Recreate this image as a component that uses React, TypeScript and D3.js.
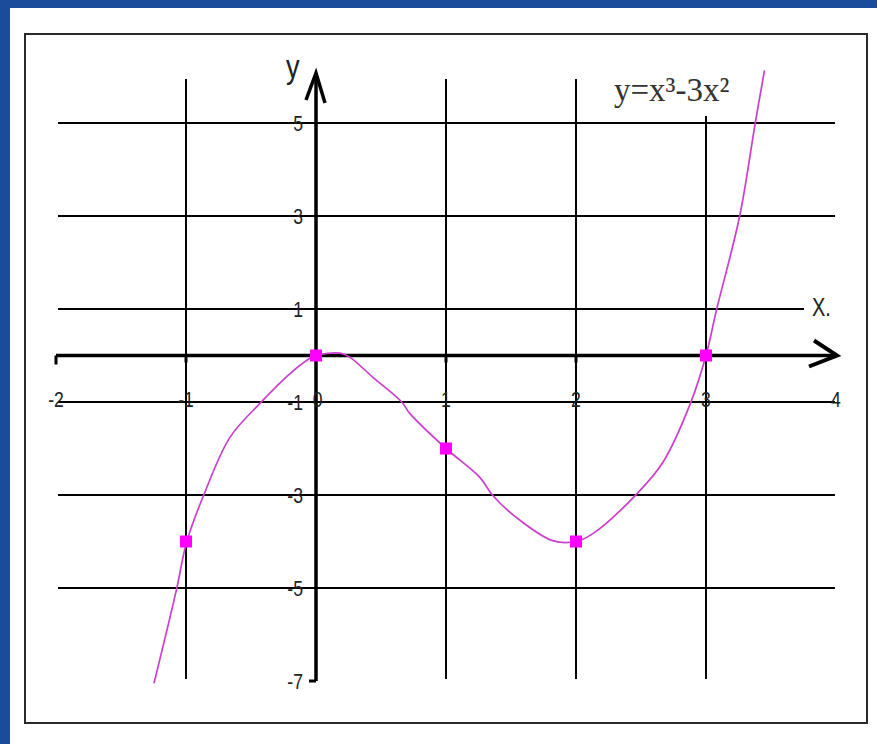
import React from "react";
import * as d3 from "d3";

// curve (x, y pairs)
const curveX = [-1.246, -1.072, -0.995, -0.862, -0.662, -0.431, -0.2, -0.046, 0, 0.185, 0.262, 0.438, 0.659, 0.723, 1.0, 1.26, 1.36, 1.54, 1.82, 2.0, 2.13, 2.47, 2.67, 2.88, 3.0, 3.08, 3.26, 3.38, 3.45];
const curveY = [-7.05, -5.02, -4.01, -2.99, -1.76, -1.03, -0.39, -0.06, 0, 0.05, -0.04, -0.47, -1.0, -1.25, -2.0, -2.62, -3.01, -3.48, -3.98, -4.0, -3.83, -2.97, -2.29, -1.03, 0, 0.97, 3.01, 5.02, 6.13];

// marked points
const pointX = [-1, 0, 1, 2, 3];
const pointY = [-4, 0, -2, -4, 0];

const xTickValues = [-2, -1, 0, 1, 2, 3, 4];
const xTickLabels = ["-2", "-1", "0", "1", "2", "3", "4"];
const yTickValues = [5, 3, 1, -1, -3, -5, -7];
const yTickLabels = ["5", "3", "1", "-1", "-3", "-5", "-7"];
const vGridValues = [-1, 1, 2, 3];
const hGridValues = [5, 3, 1, -1, -3, -5];

const title = "y=x³-3x²";

export default function App() {
  const width = 877;
  const height = 744;

  const x = d3.scaleLinear().domain([-2, 4]).range([56, 836]);
  const y = d3.scaleLinear().domain([5, -7]).range([123, 681]);

  const line = d3
    .line<number>()
    .x((d, i) => x(curveX[i]))
    .y((d, i) => y(curveY[i]))
    .curve(d3.curveCatmullRom.alpha(0.5));

  const x0 = x(0);
  const y0 = y(0);
  const labelFont = "'Liberation Sans', Arial, sans-serif";

  // narrow the sans labels a little, like the source bitmap font
  const narrow = (cx: number, cy: number) =>
    `translate(${cx},${cy}) scale(0.8,1) translate(${-cx},${-cy})`;

  return (
    <svg
      width={width}
      height={height}
      style={{ position: "absolute", left: 0, top: 0 }}
    >
      <rect x={0} y={0} width={width} height={height} fill="#1a4c9c" />
      <rect x={10} y={8} width={width - 10} height={height - 8} fill="#ffffff" />
      <rect x={25} y={34} width={842} height={689} fill="none" stroke="#2a2a2a" strokeWidth={2} />

      {/* grid */}
      {vGridValues.map((v) => (
        <line
          key={"v" + v}
          x1={x(v)}
          x2={x(v)}
          y1={v === 3 ? 116 : 79}
          y2={679}
          stroke="#000"
          strokeWidth={2}
        />
      ))}
      {hGridValues.map((v) => (
        <line
          key={"h" + v}
          x1={58}
          x2={v === 1 ? 804 : 835}
          y1={y(v)}
          y2={y(v)}
          stroke="#000"
          strokeWidth={2}
        />
      ))}

      {/* x axis */}
      <line x1={x(-2)} x2={x(4)} y1={y0} y2={y0} stroke="#000" strokeWidth={3.5} />
      <line x1={x(-2)} x2={x(-2)} y1={y0} y2={y0 + 9} stroke="#000" strokeWidth={3} />
      {[-1, 1, 2].map((v) => (
        <line key={"xt" + v} x1={x(v)} x2={x(v)} y1={y0} y2={y0 + 7} stroke="#000" strokeWidth={3} />
      ))}
      <polyline
        points={`${x(4) - 22},${y0 - 15} ${x(4) + 1},${y0} ${x(4) - 27},${y0 + 11}`}
        fill="none"
        stroke="#000"
        strokeWidth={4}
      />

      {/* y axis */}
      <line x1={x0} x2={x0} y1={y(-7)} y2={73} stroke="#000" strokeWidth={3.5} />
      <line x1={x0 - 7} x2={x0} y1={y(-7)} y2={y(-7)} stroke="#000" strokeWidth={3} />
      <polyline
        points={`${x0 - 10},100 ${x0},73 ${x0 + 9},103`}
        fill="none"
        stroke="#000"
        strokeWidth={3.5}
      />

      {/* tick labels */}
      {xTickValues.map((v, i) => (
        <text
          key={"xl" + v}
          x={x(v) + (v === 0 ? 2 : 0)}
          y={399}
          textAnchor="middle"
          dominantBaseline="central"
          fontFamily={labelFont}
          fontSize={22}
          fill="#222"
          transform={narrow(x(v), 399)}
        >
          {xTickLabels[i]}
        </text>
      ))}
      {yTickValues.map((v, i) => (
        <text
          key={"yl" + v}
          x={x0 - 13}
          y={y(v)}
          textAnchor="end"
          dominantBaseline="central"
          fontFamily={labelFont}
          fontSize={22}
          fill="#222"
          transform={narrow(x0 - 13, y(v))}
        >
          {yTickLabels[i]}
        </text>
      ))}

      {/* axis names */}
      <text x={286} y={78} fontFamily={labelFont} fontSize={34} fill="#222" transform={narrow(286, 78)}>
        y
      </text>
      <text x={812} y={316} fontFamily={labelFont} fontSize={25} fill="#222" transform={narrow(812, 316)}>
        X.
      </text>

      {/* function title */}
      <text x={614} y={101} fontFamily="'Liberation Serif', 'Times New Roman', serif" fontSize={33} fill="#333">
        {title}
      </text>

      {/* curve */}
      <path d={line(curveX) || ""} fill="none" stroke="#cc3fcc" strokeWidth={1.7} />

      {/* points */}
      {pointX.map((v, i) => (
        <rect
          key={"p" + v}
          x={x(v) - 6}
          y={y(pointY[i]) - 6}
          width={12}
          height={12}
          fill="#ff00ff"
        />
      ))}
    </svg>
  );
}
